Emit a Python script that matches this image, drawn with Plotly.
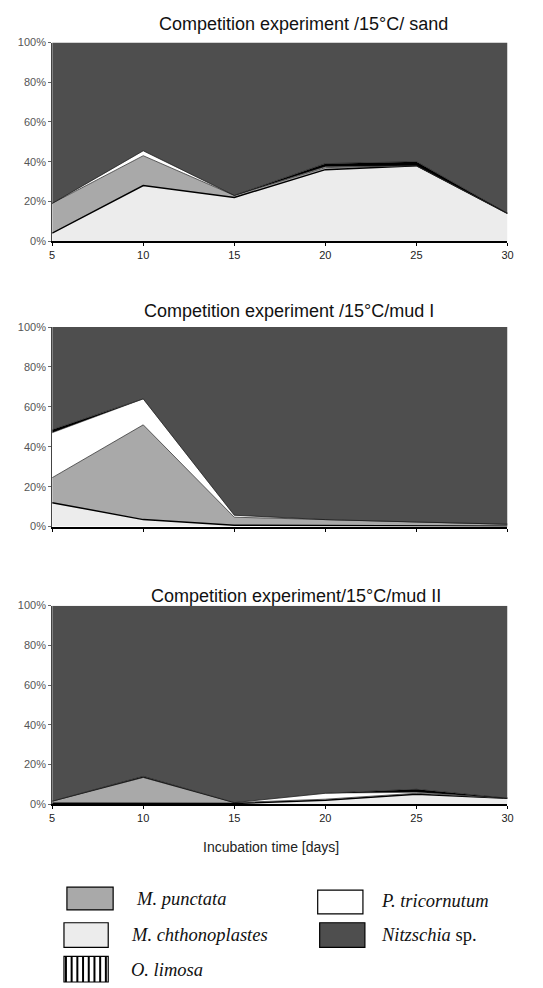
import plotly.graph_objects as go

days = [5, 10, 15, 20, 25, 30]

# Percent composition (bottom -> top) per panel
sand_chthono   = [4, 28, 22, 36, 38, 14]
sand_punctata  = [15, 15, 1, 1, 0, 0]
sand_tricorn   = [0, 2.5, 0, 0.5, 0, 0]
sand_limosa    = [0, 0, 0, 1.5, 2, 0]
sand_nitzschia = [81, 54.5, 77, 61, 60, 86]

mud1_chthono   = [12, 3.5, 0.7, 0.5, 0.3, 0.2]
mud1_punctata  = [12.5, 47.5, 4, 3, 2, 1]
mud1_tricorn   = [22.5, 13, 1, 0, 0, 0]
mud1_limosa    = [1.5, 0, 0, 0, 0, 0]
mud1_nitzschia = [51.5, 36, 94.3, 96.5, 97.7, 98.8]

mud2_chthono   = [0.5, 0.5, 0.3, 2, 5, 3]
mud2_punctata  = [1, 13, 0.5, 0.5, 0.5, 0]
mud2_tricorn   = [0, 0, 0, 3, 0.5, 0]
mud2_limosa    = [0, 0.5, 0, 0, 1.5, 0]
mud2_nitzschia = [98.5, 86, 99.2, 94.5, 92.5, 97]

titles = ["Competition experiment /15°C/ sand",
          "Competition experiment /15°C/mud I",
          "Competition experiment/15°C/mud II"]
y_ticks = [0, 20, 40, 60, 80, 100]
y_ticklabels = ["0%", "20%", "40%", "60%", "80%", "100%"]
x_title = "Incubation time [days]"
legend_names = ["M. punctata", "P. tricornutum", "M. chthonoplastes", "Nitzschia sp.", "O. limosa"]

C_NITZ = "#4e4e4e"
C_PUNC = "#a9a9a9"
C_CHTH = "#ececec"
C_TRIC = "#ffffff"

panels = [
    (sand_chthono, sand_punctata, sand_tricorn, sand_limosa, sand_nitzschia),
    (mud1_chthono, mud1_punctata, mud1_tricorn, mud1_limosa, mud1_nitzschia),
    (mud2_chthono, mud2_punctata, mud2_tricorn, mud2_limosa, mud2_nitzschia),
]

W, H = 543, 988
def py(px):
    return 1 - px / H
def pxx(px):
    return px / W

domains_px = [(37, 238), (325, 527), (607, 808)]
xdom = [pxx(50), pxx(513)]

fig = go.Figure()
for i, (ch, pu, tr, li, ni) in enumerate(panels):
    xa = "x" if i == 0 else f"x{i+1}"
    ya = "y" if i == 0 else f"y{i+1}"
    sg = f"s{i}"
    fig.add_trace(go.Scatter(x=days, y=ch, stackgroup=sg, mode="lines",
                             line=dict(color="black", width=1.5), fillcolor=C_CHTH,
                             xaxis=xa, yaxis=ya, showlegend=False))
    fig.add_trace(go.Scatter(x=days, y=pu, stackgroup=sg, mode="lines",
                             line=dict(color="#333333", width=0.8), fillcolor=C_PUNC,
                             xaxis=xa, yaxis=ya, showlegend=False))
    fig.add_trace(go.Scatter(x=days, y=tr, stackgroup=sg, mode="lines",
                             line=dict(color="#333333", width=0.5), fillcolor=C_TRIC,
                             xaxis=xa, yaxis=ya, showlegend=False))
    fig.add_trace(go.Scatter(x=days, y=li, stackgroup=sg, mode="lines",
                             line=dict(color="black", width=0.5), fillcolor="black",
                             xaxis=xa, yaxis=ya, showlegend=False))
    fig.add_trace(go.Scatter(x=days, y=ni, stackgroup=sg, mode="lines",
                             line=dict(color=C_NITZ, width=0), fillcolor=C_NITZ,
                             xaxis=xa, yaxis=ya, showlegend=False))

    top, bot = domains_px[i]
    show_x = i != 1
    xkey = "xaxis" if i == 0 else f"xaxis{i+1}"
    ykey = "yaxis" if i == 0 else f"yaxis{i+1}"
    fig.update_layout(**{
        xkey: dict(domain=xdom, range=[5, 30], anchor=ya, tickvals=days,
                   showticklabels=show_x, ticks="outside", ticklen=3,
                   tickcolor="black", showline=True, linecolor="black", linewidth=2,
                   showgrid=False, zeroline=False,
                   tickfont=dict(family="Liberation Sans", size=11, color="#222")),
        ykey: dict(domain=[py(bot), py(top)], range=[0, 100], anchor=xa,
                   tickvals=y_ticks, ticktext=y_ticklabels, ticks="outside",
                   ticklen=3, tickcolor="#666", showline=True, linecolor="#444",
                   linewidth=1, showgrid=False, zeroline=False,
                   tickfont=dict(family="Liberation Sans", size=11, color="#555")),
    })

annotations = []
title_pos = [(306, 18), (291, 309), (298, 597)]
for t, (tx, ty) in zip(titles, title_pos):
    annotations.append(dict(text=t, x=pxx(tx), y=py(ty), xref="paper", yref="paper",
                            showarrow=False, xanchor="center", yanchor="middle",
                            font=dict(family="Liberation Sans", size=18, color="#111")))
annotations.append(dict(text=x_title, x=pxx(273), y=py(851), xref="paper", yref="paper",
                        showarrow=False, xanchor="center", yanchor="middle",
                        font=dict(family="Liberation Sans", size=14, color="#222")))

# legend (custom)
leg = [
    (legend_names[0], (65, 892, 112, 915), C_PUNC, 133, 904),
    (legend_names[1], (320, 895, 366, 919), C_TRIC, 382, 906),
    (legend_names[2], (62, 928, 107, 953), C_CHTH, 128, 940),
    (legend_names[3], (322, 928, 368, 953), C_NITZ, 382, 940),
    (legend_names[4], (62, 962, 107, 988), "white", 128, 976),
]
shapes = []
for name, (x0, y0, x1, y1), col, tx, ty in leg:
    shapes.append(dict(type="rect", xref="paper", yref="paper",
                       x0=pxx(x0), x1=pxx(x1), y0=py(y1), y1=py(y0),
                       fillcolor=col, line=dict(color="black", width=1.2)))
    if name.startswith("Nitzschia"):
        txt = "<i>Nitzschia</i> sp."
    else:
        txt = f"<i>{name}</i>"
    annotations.append(dict(text=txt, x=pxx(tx), y=py(ty), xref="paper", yref="paper",
                            showarrow=False, xanchor="left", yanchor="middle",
                            font=dict(family="Liberation Serif", size=18.5, color="#111")))
# vertical stripes for O. limosa legend box
for k in range(8):
    xs = 64 + k * 5.8
    shapes.append(dict(type="line", xref="paper", yref="paper",
                       x0=pxx(xs), x1=pxx(xs), y0=py(988), y1=py(962),
                       line=dict(color="black", width=2)))

fig.update_layout(width=W, height=H, margin=dict(l=0, r=0, t=0, b=0),
                  paper_bgcolor="white", plot_bgcolor="white",
                  showlegend=False, annotations=annotations, shapes=shapes)

fig.write_html("out.html", config={"displayModeBar": False},
               post_script="document.body.style.margin='0';document.body.style.overflow='hidden';")
